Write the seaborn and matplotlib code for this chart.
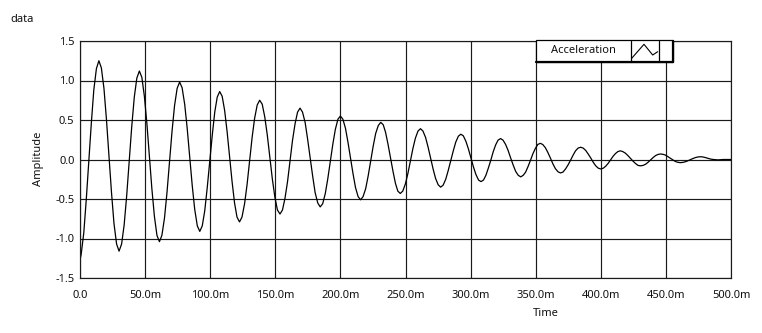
import matplotlib
matplotlib.use("Agg")
import matplotlib.pyplot as plt
import matplotlib.patches as mpatches
import matplotlib.lines as mlines
import seaborn as sns
import pandas as pd

# ---- data (time in ms, amplitude) ----
time_ms = [
    0.0, 0.9, 2.9, 4.8, 6.75, 8.7, 10.6, 12.6, 14.5,
    16.4, 18.4, 20.3, 22.25, 24.2, 26.1, 28.1, 30.0,
    31.95, 33.9, 35.85, 37.8, 39.75, 41.7, 43.65, 45.6,
    47.5, 49.45, 51.4, 53.3, 55.2, 57.15, 59.1, 61.0,
    62.9, 64.9, 66.8, 68.75, 70.7, 72.6, 74.6, 76.5,
    78.4, 80.4, 82.3, 84.25, 86.2, 88.1, 90.1, 92.0,
    93.9, 95.8, 97.7, 99.65, 101.6, 103.5, 105.4, 107.3,
    109.2, 111.1, 113.0, 114.9, 116.8, 118.7, 120.6, 122.5,
    124.4, 126.4, 128.3, 130.25, 132.2, 134.1, 136.1, 138.0,
    139.95, 141.9, 143.85, 145.8, 147.75, 149.7, 151.65, 153.6,
    155.5, 157.45, 159.4, 161.3, 163.2, 165.15, 167.1, 169.0,
    170.9, 172.9, 174.8, 176.75, 178.7, 180.6, 182.6, 184.5,
    186.4, 188.4, 190.3, 192.25, 194.2, 196.1, 198.1, 200.0,
    201.9, 203.9, 205.8, 207.75, 209.7, 211.6, 213.6, 215.5,
    217.4, 219.4, 221.3, 223.25, 225.2, 227.1, 229.1, 231.0,
    232.9, 234.75, 236.6, 238.5, 240.4, 242.25, 244.1, 246.0,
    247.9, 249.9, 251.8, 253.75, 255.7, 257.6, 259.6, 261.5,
    263.4, 265.4, 267.3, 269.25, 271.2, 273.1, 275.1, 277.0,
    278.9, 280.9, 282.8, 284.75, 286.7, 288.6, 290.6, 292.5,
    294.4, 296.4, 298.3, 300.25, 302.2, 304.1, 306.1, 308.0,
    309.9, 311.75, 313.6, 315.5, 317.4, 319.25, 321.1, 323.0,
    324.9, 326.9, 328.8, 330.75, 332.7, 334.6, 336.6, 338.5,
    340.4, 342.25, 344.1, 346.0, 347.9, 349.75, 351.6, 353.5,
    355.4, 357.4, 359.3, 361.25, 363.2, 365.1, 367.1, 369.0,
    370.9, 372.9, 374.8, 376.75, 378.7, 380.6, 382.6, 384.5,
    386.4, 388.4, 390.3, 392.25, 394.2, 396.1, 398.1, 400.0,
    401.9, 403.75, 405.6, 407.5, 409.4, 411.25, 413.1, 415.0,
    416.9, 418.9, 420.8, 422.75, 424.7, 426.6, 428.6, 430.5,
    432.4, 434.4, 436.3, 438.25, 440.2, 442.1, 444.1, 446.0,
    447.9, 449.75, 451.6, 453.5, 455.4, 457.25, 459.1, 461.0,
    462.9, 464.9, 466.8, 468.75, 470.7, 472.6, 474.6, 476.5,
    478.4, 480.4, 482.4, 484.4, 486.5, 490.0, 494.0, 500.0,
]
amplitude = [
    -1.27, -1.20, -0.93, -0.51, -0.03, 0.46, 0.88, 1.15, 1.25,
    1.16, 0.90, 0.51, 0.045, -0.42, -0.81, -1.07, -1.16,
    -1.07, -0.83, -0.46, -0.02, 0.42, 0.79, 1.03, 1.12,
    1.04, 0.80, 0.45, 0.04, -0.37, -0.72, -0.96, -1.04,
    -0.96, -0.74, -0.42, -0.03, 0.36, 0.68, 0.90, 0.98,
    0.91, 0.70, 0.40, 0.035, -0.33, -0.63, -0.84, -0.91,
    -0.84, -0.65, -0.36, -0.025, 0.31, 0.60, 0.79, 0.86,
    0.80, 0.62, 0.35, 0.035, -0.28, -0.55, -0.73, -0.79,
    -0.73, -0.56, -0.32, -0.02, 0.28, 0.52, 0.69, 0.75,
    0.70, 0.54, 0.31, 0.03, -0.25, -0.48, -0.64, -0.69,
    -0.64, -0.49, -0.28, -0.02, 0.24, 0.45, 0.60, 0.65,
    0.60, 0.47, 0.26, 0.025, -0.21, -0.42, -0.55, -0.60,
    -0.56, -0.43, -0.245, -0.025, 0.195, 0.38, 0.51, 0.55,
    0.51, 0.395, 0.22, 0.02, -0.18, -0.355, -0.47, -0.51,
    -0.47, -0.37, -0.21, -0.02, 0.17, 0.33, 0.43, 0.47,
    0.44, 0.34, 0.19, 0.02, -0.15, -0.30, -0.40, -0.43,
    -0.40, -0.31, -0.18, -0.02, 0.14, 0.27, 0.36, 0.39,
    0.36, 0.28, 0.16, 0.02, -0.12, -0.24, -0.32, -0.35,
    -0.325, -0.25, -0.14, -0.015, 0.11, 0.22, 0.295, 0.32,
    0.30, 0.23, 0.135, 0.02, -0.095, -0.19, -0.26, -0.28,
    -0.26, -0.20, -0.11, -0.01, 0.10, 0.185, 0.245, 0.265,
    0.245, 0.19, 0.115, 0.02, -0.07, -0.15, -0.20, -0.22,
    -0.20, -0.16, -0.09, -0.01, 0.075, 0.14, 0.19, 0.205,
    0.19, 0.15, 0.09, 0.02, -0.055, -0.115, -0.155, -0.17,
    -0.16, -0.12, -0.07, -0.01, 0.055, 0.11, 0.145, 0.155,
    0.145, 0.115, 0.07, 0.02, -0.035, -0.08, -0.11, -0.12,
    -0.11, -0.085, -0.05, -0.005, 0.04, 0.075, 0.10, 0.11,
    0.10, 0.08, 0.05, 0.015, -0.02, -0.05, -0.075, -0.08,
    -0.075, -0.06, -0.035, -0.005, 0.025, 0.05, 0.065, 0.07,
    0.065, 0.055, 0.035, 0.015, -0.005, -0.025, -0.035, -0.04,
    -0.037, -0.029, -0.017, -0.0025, 0.012, 0.024, 0.032, 0.035,
    0.032, 0.024, 0.014, 0.005, 0.0, -0.005, 0.0, 0.0,
]
x_ticks = [0, 50, 100, 150, 200, 250, 300, 350, 400, 450, 500]
x_tick_labels = ["0.0", "50.0m", "100.0m", "150.0m", "200.0m", "250.0m",
                 "300.0m", "350.0m", "400.0m", "450.0m", "500.0m"]
y_ticks = [-1.5, -1.0, -0.5, 0.0, 0.5, 1.0, 1.5]
y_tick_labels = ["-1.5", "-1.0", "-0.5", "0.0", "0.5", "1.0", "1.5"]
series_name = "Acceleration"

# ---- style ----
sns.set_style("white")
plt.rcParams["font.family"] = ["Noto Sans", "DejaVu Sans"]
plt.rcParams["font.size"] = 8

W, H = 762, 333
fig = plt.figure(figsize=(W / 100, H / 100), dpi=100)
fig.patch.set_facecolor("white")

left, right, top, bottom = 80, 731, 41, 278
ax = fig.add_axes([left / W, 1 - bottom / H, (right - left) / W, (bottom - top) / H])

df = pd.DataFrame({"Time": time_ms, "Amplitude": amplitude})
sns.lineplot(data=df, x="Time", y="Amplitude", ax=ax, color="black",
             linewidth=0.9, sort=False, estimator=None, legend=False)

ax.set_xlim(0, 500)
ax.set_ylim(-1.5, 1.5)
ax.set_xticks(x_ticks)
ax.set_xticklabels(x_tick_labels)
ax.set_yticks(y_ticks)
ax.set_yticklabels(y_tick_labels)
ax.set_xlabel("")
ax.set_ylabel("")

ax.grid(True, color="#1a1a1a", linewidth=0.85)
ax.set_axisbelow(True)
for s in ax.spines.values():
    s.set_color("#1a1a1a")
    s.set_linewidth(0.85)
ax.tick_params(axis="both", direction="out", length=3, width=0.8,
               color="#1a1a1a", labelsize=8, labelcolor="#111111")
ax.tick_params(axis="x", pad=6)
ax.tick_params(axis="y", pad=1)

# labels
fig.text(10 / W, 1 - 20 / H, "data", ha="left", va="center", fontsize=8, color="#111111")
fig.text(38 / W, 1 - 159 / H, "Amplitude", ha="center", va="center",
         rotation=90, fontsize=8, color="#111111")
fig.text(546 / W, 1 - 313 / H, "Time", ha="center", va="center", fontsize=8, color="#111111")

# LabVIEW-style legend box
def fx(px):
    return px / W

def fy(py):
    return 1 - py / H

lx0, lx1, ly0, ly1 = 535.5, 672.5, 40.5, 62
fig.patches.append(mpatches.Rectangle((fx(lx0), fy(ly1)), fx(lx1) - fx(lx0), fy(ly0) - fy(ly1),
                                      transform=fig.transFigure, facecolor="white",
                                      edgecolor="black", linewidth=0.9, zorder=5))
fig.lines.append(mlines.Line2D([fx(lx0), fx(lx1)], [fy(ly1), fy(ly1)], transform=fig.transFigure,
                               color="black", linewidth=1.6, zorder=6))
fig.lines.append(mlines.Line2D([fx(lx1), fx(lx1)], [fy(ly1), fy(ly0)], transform=fig.transFigure,
                               color="black", linewidth=1.6, zorder=6))
for sx in (630.7, 659.3):
    fig.lines.append(mlines.Line2D([fx(sx), fx(sx)], [fy(ly1), fy(ly0)], transform=fig.transFigure,
                                   color="black", linewidth=0.9, zorder=6))
fig.lines.append(mlines.Line2D([fx(631.7), fx(644), fx(652.7), fx(657.7)],
                               [fy(58.3), fy(44.3), fy(55), fy(51.7)],
                               transform=fig.transFigure, color="black", linewidth=0.8, zorder=6))
fig.text(fx(583), fy(50.5), series_name, ha="center", va="center", fontsize=8,
         color="#111111", zorder=7)

fig.savefig("out.png", dpi=100, facecolor="white")
